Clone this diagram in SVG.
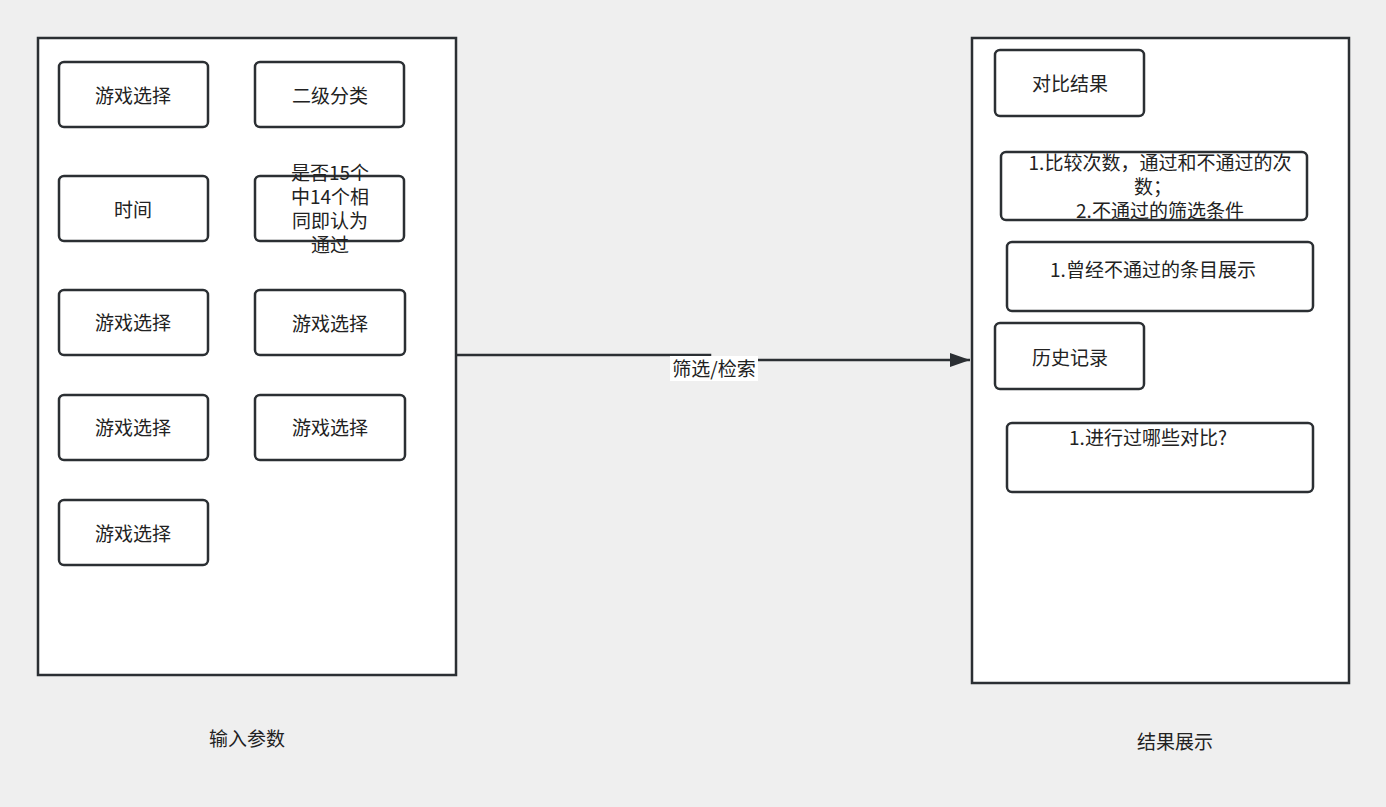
<svg xmlns="http://www.w3.org/2000/svg" width="1386" height="807" viewBox="0 0 1386 807">
<defs>
<style>
.c{fill:#fff;stroke:#2b2f33;stroke-width:2.5}
.b{fill:#fff;stroke:#2b2f33;stroke-width:2.5}
text{font-family:"Noto Sans CJK SC","Liberation Sans",sans-serif;font-size:19px;fill:#222;text-anchor:middle}
.e{stroke:#2b2f33;stroke-width:2.5;fill:none}
</style>
<marker id="a" markerWidth="20" markerHeight="14" refX="20" refY="7" orient="auto" markerUnits="userSpaceOnUse"><path d="M0,0L20,7L0,14z" fill="#2b2f33"/></marker>
</defs>
<rect width="1386" height="807" fill="#efefef"/>
<g id="left"><rect class="c" x="38" y="38" width="418" height="637"/></g>
<g id="right"><rect class="c" x="972" y="38" width="377" height="645"/></g>
<g id="n1"><rect class="b" x="59" y="62" width="149" height="65" rx="5"/><text x="133" y="103">游戏选择</text></g>
<g id="n2"><rect class="b" x="255" y="62" width="149" height="65" rx="5"/><text x="330" y="103">二级分类</text></g>
<g id="n3"><rect class="b" x="59" y="176" width="149" height="65" rx="5"/><text x="133" y="217">时间</text></g>
<g id="n4"><rect class="b" x="255" y="176" width="149" height="65" rx="5"/><text x="330" y="180">是否15个</text><text x="330" y="204">中14个相</text><text x="330" y="228">同即认为</text><text x="330" y="252">通过</text></g>
<g id="n5"><rect class="b" x="59" y="290" width="149" height="65" rx="5"/><text x="133" y="330">游戏选择</text></g>
<g id="n6"><rect class="b" x="255" y="290" width="150" height="65" rx="5"/><text x="330" y="331">游戏选择</text></g>
<g id="n7"><rect class="b" x="59" y="395" width="149" height="65" rx="5"/><text x="133" y="435">游戏选择</text></g>
<g id="n8"><rect class="b" x="255" y="395" width="150" height="65" rx="5"/><text x="330" y="435">游戏选择</text></g>
<g id="n9"><rect class="b" x="59" y="500" width="149" height="65" rx="5"/><text x="133" y="541">游戏选择</text></g>
<g id="r1"><rect class="b" x="995" y="50" width="149" height="66" rx="5"/><text x="1070" y="91">对比结果</text></g>
<g id="r2"><rect class="b" x="1001" y="152" width="306" height="68" rx="5"/><text x="1160" y="170">1.比较次数，通过和不通过的次</text><text x="1153" y="194">数；</text><text x="1160" y="218">2.不通过的筛选条件</text></g>
<g id="r3"><rect class="b" x="1007" y="242" width="306" height="69" rx="5"/><text x="1153" y="277">1.曾经不通过的条目展示</text></g>
<g id="r4"><rect class="b" x="995" y="323" width="149" height="66" rx="5"/><text x="1070" y="365">历史记录</text></g>
<g id="r5"><rect class="b" x="1007" y="423" width="306" height="69" rx="5"/><text x="1148" y="445">1.进行过哪些对比?</text></g>
<g id="edges"><path class="e" d="M457,355H710V360H970" marker-end="url(#a)"/>
<rect x="670" y="356" width="88" height="25" fill="#fff"/><text x="714" y="376">筛选/检索</text></g>
<g id="labels"><text x="247" y="746">输入参数</text><text x="1175" y="749">结果展示</text></g>
</svg>
